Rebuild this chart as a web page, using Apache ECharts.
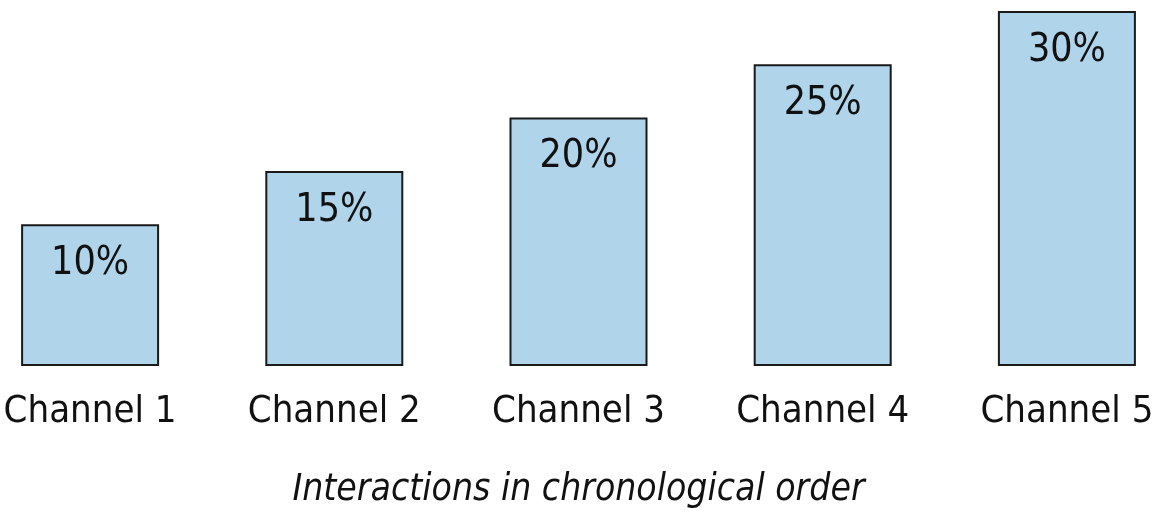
<!DOCTYPE html>
<html>
<head>
<meta charset="utf-8">
<script src="https://cdn.jsdelivr.net/npm/echarts@6/dist/echarts.min.js"></script>
<style>
  html, body { margin: 0; padding: 0; background: #fff; }
  #chart { width: 1156px; height: 512px; }
</style>
</head>
<body>
<div id="chart"></div>
<script>
// 数据
var channels = ['Channel 1', 'Channel 2', 'Channel 3', 'Channel 4', 'Channel 5'];
var shares = [10, 15, 20, 25, 30];

var FONT = '"DejaVu Sans Condensed", "Liberation Sans Narrow", sans-serif';

var chart = echarts.init(document.getElementById('chart'), null, {renderer: 'canvas'});

var option = {
    animation: false,
    grid: {
        left: -32,
        right: -33,
        top: 11,
        bottom: 146,
        containLabel: false,
        outerBoundsMode: 'none'
    },
    xAxis: {
        type: 'category',
        data: channels,
        axisLine: {show: false},
        axisTick: {show: false},
        axisLabel: {
            interval: 0,
            fontFamily: FONT,
            fontSize: 38,
            color: '#111',
            margin: 27
        },
        name: 'Interactions in chronological order',
        nameLocation: 'middle',
        nameGap: 106,
        nameTextStyle: {
            fontFamily: FONT,
            fontSize: 37,
            fontStyle: 'italic',
            color: '#111'
        }
    },
    yAxis: {
        type: 'value',
        // the source bars start below zero, so the base sits under the 0 line
        min: -3.3,
        max: 30,
        startValue: -3.3,
        show: false
    },
    series: [
        {
            name: 'share',
            type: 'bar',
            barWidth: 138,
            data: shares,
            itemStyle: {color: '#b0d4ea', borderColor: '#1a1a1a', borderWidth: 2},
            label: {
                show: true,
                position: 'insideTop',
                distance: 20,
                formatter: '{c}%',
                fontFamily: FONT,
                fontSize: 39,
                color: '#111'
            }
        }
    ]
};
chart.setOption(option);
</script>
</body>
</html>
